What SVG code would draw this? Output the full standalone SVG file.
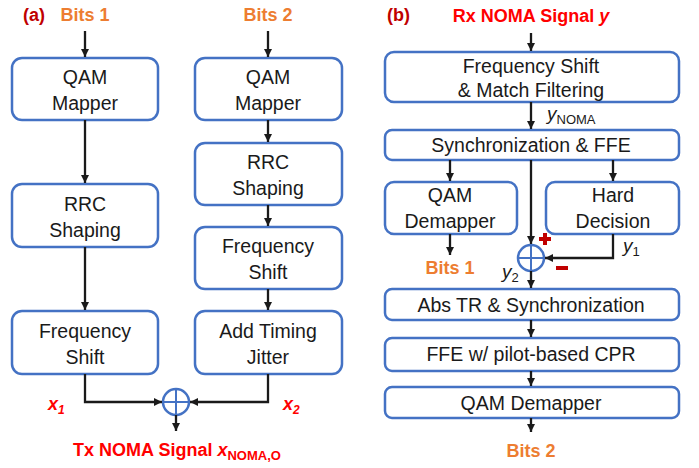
<svg xmlns="http://www.w3.org/2000/svg" width="699" height="468" viewBox="0 0 699 468">
<style>
.box{fill:#fff;stroke:#4472c4;stroke-width:2.5}
.t{font-family:"Liberation Sans",Arial,sans-serif;font-size:19.5px;fill:#1a1a1a;text-anchor:middle}
.c{fill:none;stroke:#1a1a1a;stroke-width:2.3}
.sum{fill:#fff;stroke:#4472c4;stroke-width:2.5}
.lbl{font-family:"Liberation Sans",Arial,sans-serif;font-weight:bold;font-size:18px}
.org{fill:#ed7d31}
.red{fill:#ff0000}
.dred{fill:#c00000}
.it{font-family:"Liberation Sans",Arial,sans-serif;font-style:italic;font-size:19px;fill:#1a1a1a}
</style>
<defs>
<marker id="ah" viewBox="0 0 10 10" refX="10" refY="5" markerWidth="8" markerHeight="8" orient="auto" markerUnits="userSpaceOnUse">
<path d="M0,0 L10,5 L0,10 z" fill="#1a1a1a"/>
</marker>
</defs>
<rect width="699" height="468" fill="#fff"/>

<g id="labels">
<text class="lbl dred" x="23" y="21">(a)</text>
<text class="lbl org" x="85" y="21" text-anchor="middle">Bits 1</text>
<text class="lbl org" x="268" y="21" text-anchor="middle">Bits 2</text>
<text class="lbl dred" x="387" y="21">(b)</text>
<text class="lbl red" x="531" y="22" text-anchor="middle" font-size="19">Rx NOMA Signal <tspan font-style="italic">y</tspan></text>
<text class="lbl red" x="48" y="410" font-style="italic">x<tspan font-size="12" dy="4">1</tspan></text>
<text class="lbl red" x="283" y="410" font-style="italic">x<tspan font-size="12" dy="4">2</tspan></text>
<text class="lbl red" x="177" y="456" text-anchor="middle" font-size="19">Tx NOMA Signal <tspan font-style="italic">x</tspan><tspan font-size="13" dy="4">NOMA,O</tspan></text>
<text class="lbl org" x="450" y="274" text-anchor="middle">Bits 1</text>
<text class="lbl org" x="531" y="457" text-anchor="middle">Bits 2</text>
<text class="it" x="547" y="120">y<tspan font-style="normal" font-size="13" dy="4">NOMA</tspan></text>
<text class="it" x="623" y="252">y<tspan font-style="normal" font-size="13" dy="4">1</tspan></text>
<text class="it" x="502" y="278">y<tspan font-style="normal" font-size="13" dy="4">2</tspan></text>
<path d="M545,233 v12 M539,239 h12" stroke="#c00000" stroke-width="4"/>
<path d="M556,268 h12" stroke="#c00000" stroke-width="4"/>
</g>

<g id="n1"><rect class="box" x="12" y="58" width="146" height="62" rx="10"/><text class="t" x="85" y="84">QAM</text><text class="t" x="85" y="110">Mapper</text></g>
<g id="n2"><rect class="box" x="12" y="184" width="146" height="63" rx="10"/><text class="t" x="85" y="211">RRC</text><text class="t" x="85" y="237">Shaping</text></g>
<g id="n3"><rect class="box" x="12" y="311" width="146" height="63" rx="10"/><text class="t" x="85" y="338">Frequency</text><text class="t" x="85" y="364">Shift</text></g>
<g id="n4"><rect class="box" x="195" y="58" width="147" height="62" rx="10"/><text class="t" x="268" y="84">QAM</text><text class="t" x="268" y="110">Mapper</text></g>
<g id="n5"><rect class="box" x="195" y="143" width="147" height="62" rx="10"/><text class="t" x="268" y="169">RRC</text><text class="t" x="268" y="195">Shaping</text></g>
<g id="n6"><rect class="box" x="195" y="227" width="147" height="62" rx="10"/><text class="t" x="268" y="253">Frequency</text><text class="t" x="268" y="279">Shift</text></g>
<g id="n7"><rect class="box" x="195" y="311" width="147" height="63" rx="10"/><text class="t" x="268" y="338">Add Timing</text><text class="t" x="268" y="364">Jitter</text></g>
<g id="sumA"><circle class="sum" cx="176" cy="402" r="13"/><path d="M163,402 h26 M176,389 v26" stroke="#4472c4" stroke-width="2"/></g>

<g id="m1"><rect class="box" x="385" y="52" width="294" height="50" rx="9"/><text class="t" x="531" y="73">Frequency Shift</text><text class="t" x="531" y="97">&amp; Match Filtering</text></g>
<g id="m2"><rect class="box" x="385" y="130" width="294" height="30" rx="7"/><text class="t" x="531" y="152">Synchronization &amp; FFE</text></g>
<g id="m3"><rect class="box" x="385" y="182" width="132" height="52" rx="9"/><text class="t" x="450" y="202">QAM</text><text class="t" x="450" y="228">Demapper</text></g>
<g id="m4"><rect class="box" x="546" y="182" width="133" height="52" rx="9"/><text class="t" x="613" y="202">Hard</text><text class="t" x="613" y="228">Decision</text></g>
<g id="m5"><rect class="box" x="385" y="289" width="294" height="31" rx="7"/><text class="t" x="531" y="312">Abs TR &amp; Synchronization</text></g>
<g id="m6"><rect class="box" x="385" y="338" width="294" height="33" rx="7"/><text class="t" x="531" y="361">FFE w/ pilot-based CPR</text></g>
<g id="m7"><rect class="box" x="385" y="387" width="294" height="31" rx="7"/><text class="t" x="531" y="410">QAM Demapper</text></g>
<g id="sumB"><circle class="sum" cx="531" cy="258" r="13"/><path d="M518,258 h26 M531,245 v26" stroke="#4472c4" stroke-width="2"/></g>

<g id="connectors">
<path class="c" d="M85,31 V57" marker-end="url(#ah)"/>
<path class="c" d="M268,31 V57" marker-end="url(#ah)"/>
<path class="c" d="M85,120 V183" marker-end="url(#ah)"/>
<path class="c" d="M85,247 V310" marker-end="url(#ah)"/>
<path class="c" d="M268,120 V142" marker-end="url(#ah)"/>
<path class="c" d="M268,205 V226" marker-end="url(#ah)"/>
<path class="c" d="M268,289 V310" marker-end="url(#ah)"/>
<path class="c" d="M85,374 V402 H162" marker-end="url(#ah)"/>
<path class="c" d="M268,374 V402 H190" marker-end="url(#ah)"/>
<path class="c" d="M176,415 V431" marker-end="url(#ah)"/>
<path class="c" d="M531,33 V51" marker-end="url(#ah)"/>
<path class="c" d="M531,102 V129" marker-end="url(#ah)"/>
<path class="c" d="M450,160 V181" marker-end="url(#ah)"/>
<path class="c" d="M613,160 V181" marker-end="url(#ah)"/>
<path class="c" d="M531,160 V244" marker-end="url(#ah)"/>
<path class="c" d="M613,234 V258 H545" marker-end="url(#ah)"/>
<path class="c" d="M450,234 V255" marker-end="url(#ah)"/>
<path class="c" d="M531,271 V288" marker-end="url(#ah)"/>
<path class="c" d="M531,320 V337" marker-end="url(#ah)"/>
<path class="c" d="M531,371 V386" marker-end="url(#ah)"/>
<path class="c" d="M531,418 V432" marker-end="url(#ah)"/>
</g>
</svg>
